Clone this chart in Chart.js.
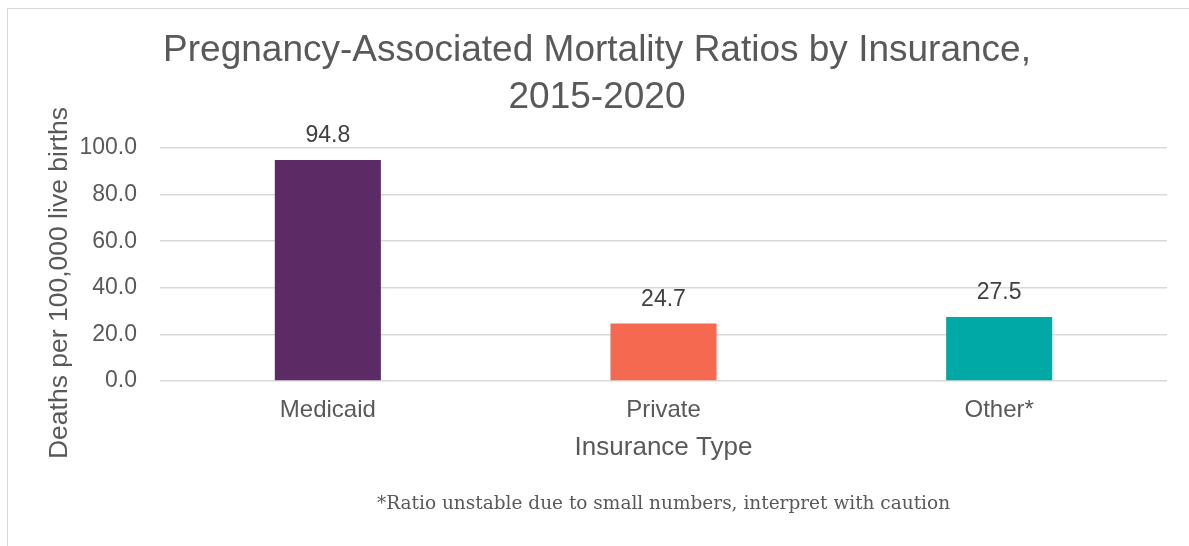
<!DOCTYPE html>
<html>
<head>
<meta charset="utf-8">
<script src="https://cdn.jsdelivr.net/npm/chart.js@4/dist/chart.umd.min.js"></script>
<style>
  html, body { margin: 0; padding: 0; background: #fff; overflow: hidden; }
  #frame { position: absolute; left: 7px; top: 8px; width: 1300px; height: 700px; border: 1px solid #d9d9d9; }
  #wrap { position: absolute; left: 0; top: 0; width: 1189px; height: 546px; }
</style>
</head>
<body>
<div id="frame"></div>
<div id="wrap"><canvas id="chart"></canvas></div>
<script>
// Daten
var categories = ["Medicaid", "Private", "Other*"],
    ratios = [94.8, 24.7, 27.5],
    barColors = ["#5C2A64", "#F4694F", "#00A9A5"],
    titleLines = ["Pregnancy-Associated Mortality Ratios by Insurance,", "2015-2020"],
    yAxisLabel = "Deaths per 100,000 live births",
    xAxisLabel = "Insurance Type",
    footnote = "*Ratio unstable due to small numbers, interpret with caution";

var SANS = "'Liberation Sans', Arial, sans-serif";

// Werte über den Balken, Achsentitel links und Fussnote zeichnen
var extraText = {
    id: "extraText",
    afterDatasetsDraw(chart) {
        var ctx = chart.ctx,
            meta = chart.getDatasetMeta(0),
            area = chart.chartArea;
        ctx.save();
        ctx.font = "23px " + SANS;
        ctx.fillStyle = "#404040";
        ctx.textAlign = "center";
        ctx.textBaseline = "middle";
        meta.data.forEach(function (bar, i) {
            ctx.fillText(ratios[i].toFixed(1), bar.x, bar.y - 24);
        });

        // y-Achsentitel
        ctx.fillStyle = "#595959";
        ctx.font = "26.5px " + SANS;
        ctx.translate(60, 283);
        ctx.rotate(-Math.PI / 2);
        ctx.fillText(yAxisLabel, 0, 0);
        ctx.restore();

        // Fussnote
        ctx.save();
        ctx.fillStyle = "#595959";
        ctx.font = "18.5px 'DejaVu Serif', Georgia, serif";
        ctx.textAlign = "center";
        ctx.textBaseline = "middle";
        ctx.fillText(footnote, (area.left + area.right) / 2, 504);
        ctx.restore();
    }
};

var canvas = document.querySelector("#chart");

new Chart(canvas, {
    type: "bar",
    data: {
        labels: categories,
        datasets: [{
            data: ratios,
            backgroundColor: barColors,
            categoryPercentage: 1,
            barPercentage: 0.316
        }]
    },
    options: {
        responsive: true,
        maintainAspectRatio: false,
        animation: false,
        layout: { padding: { left: 27, right: 22, top: 22, bottom: 83 } },
        plugins: {
            legend: { display: false },
            tooltip: { enabled: false },
            title: {
                display: true,
                text: titleLines,
                color: "#595959",
                font: { family: SANS, size: 37, weight: "normal", lineHeight: 1.27 },
                padding: { top: 5, bottom: 27 }
            }
        },
        scales: {
            x: {
                grid: { display: false, drawTicks: false },
                border: { display: false },
                ticks: {
                    color: "#595959",
                    padding: 15,
                    font: { family: SANS, size: 24 }
                },
                title: {
                    display: true,
                    text: xAxisLabel,
                    color: "#595959",
                    font: { family: SANS, size: 26 },
                    padding: { top: -8, bottom: 0 }
                }
            },
            y: {
                min: 0,
                max: 100,
                afterFit: function (scale) { scale.width = 133; },
                ticks: {
                    stepSize: 20,
                    color: "#595959",
                    padding: 23,
                    font: { family: SANS, size: 23 },
                    callback: function (v) { return v.toFixed(1); }
                },
                grid: { color: "#d9d9d9", lineWidth: 1.5, drawTicks: false },
                border: { display: false }
            }
        }
    },
    plugins: [extraText]
});
</script>
</body>
</html>
